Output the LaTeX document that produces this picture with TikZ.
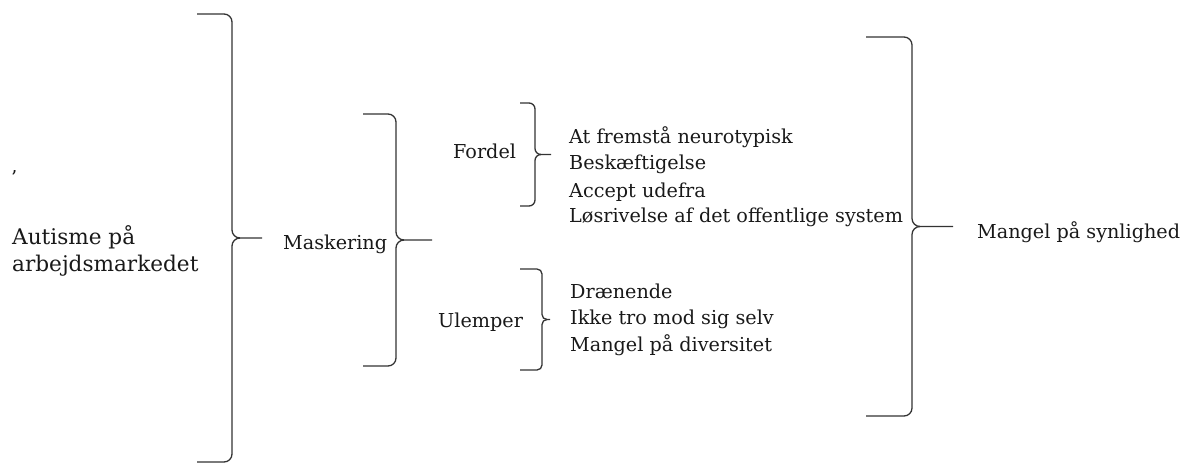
\documentclass[tikz,border=0pt]{standalone}
\usepackage{fontspec}
\setmainfont{DejaVu Serif}
\usetikzlibrary{positioning}
% #1 end x, #2 spine x, #3 top y, #4 bottom y, #5 tip x, #6 curl radius
\def\curlybrace(#1:#2:#3:#4:#5:#6){
  \draw[brace line] (#1,#3) -- ({#2-#6},#3) to[out=0,in=90] (#2,{#3+#6})
    -- (#2,{(#3+#4)/2-#6}) to[out=-90,in=180] ({#2+#6},{(#3+#4)/2}) -- (#5,{(#3+#4)/2});
  \draw[brace line] ({#2+#6},{(#3+#4)/2}) to[out=180,in=90] (#2,{(#3+#4)/2+#6})
    -- (#2,{#4-#6}) to[out=-90,in=0] ({#2-#6},#4) -- (#1,#4);
}

\begin{document}
\begin{tikzpicture}[x=1pt, y=-1pt,
    brace line/.style={line width=1.3pt, color=black!80},
    label/.style={anchor=base west, inner sep=0pt, color=black!90, font=\fontsize{19.2}{22}\selectfont},
    big label/.style={label, font=\fontsize{21.6}{27}\selectfont}]
  \useasboundingbox (0,0) rectangle (1185,466);

  % left column
  \node[big label] (autisme) at (12,244) {Autisme på};
  \node[big label] (arbejds) at (12,271) {arbejdsmarkedet};
  \node[label] (tick) at (11,184) {’};
  \curlybrace(197:232:14:462:262:8)

  % masking
  \node[label] (maskering) at (283,249) {Maskering};
  \curlybrace(363:396:114:366:432:8)

  % pros and cons
  \node[label] (fordel) at (453,158) {Fordel};
  \curlybrace(520:535:103:206:551:6)
  \node[label] (ulemper) at (438,327) {Ulemper};
  \curlybrace(520:542:269:370:550:5)

  \foreach \txt/\y [count=\i] in {At fremstå neurotypisk/143, Beskæftigelse/169,
      Accept udefra/197, Løsrivelse af det offentlige system/222}
    \node[label] (f\i) at (569,\y) {\txt};
  \foreach \txt/\y [count=\i] in {Drænende/298, Ikke tro mod sig selv/324,
      Mangel på diversitet/351}
    \node[label] (u\i) at (570,\y) {\txt};

  % result
  \curlybrace(866:912:37:416:953:8)
  \node[label] (synlighed) at (977,238) {Mangel på synlighed};
\end{tikzpicture}
\end{document}
